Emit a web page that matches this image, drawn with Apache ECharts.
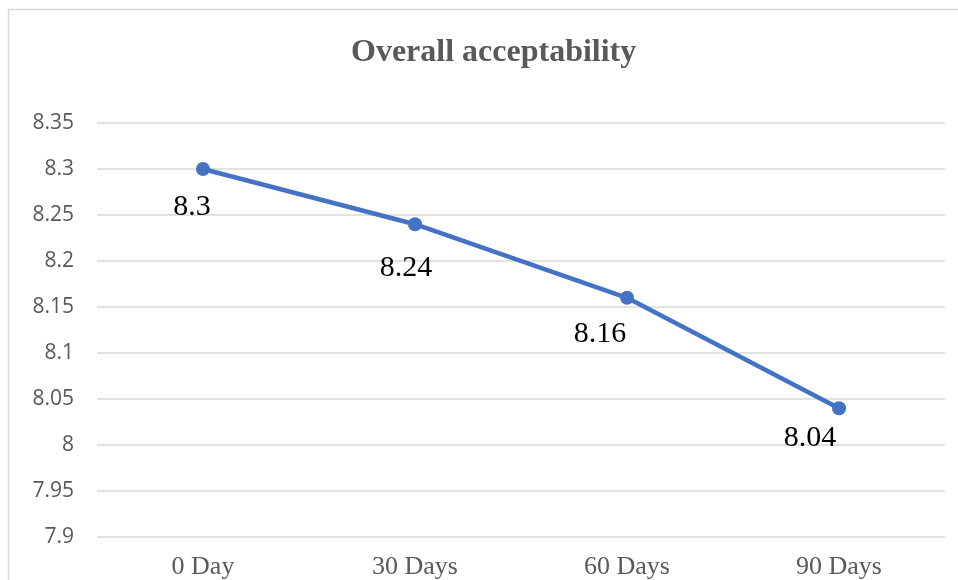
<!DOCTYPE html>
<html>
<head>
<meta charset="utf-8">
<script src="https://cdn.jsdelivr.net/npm/echarts@6/dist/echarts.min.js"></script>
<style>
html,body{margin:0;padding:0;background:#fff;}
#chart{width:958px;height:580px;}
</style>
</head>
<body>
<div id="chart"></div>
<script>
const categories = ['0 Day', '30 Days', '60 Days', '90 Days'];
const values = [8.3, 8.24, 8.16, 8.04];
const yTicks = { min: 7.9, max: 8.35, interval: 0.05 };
const labelOffsets = [[-11, 4], [-9, 10], [-27, 2], [-29, -4]];

const chart = echarts.init(document.getElementById('chart'), null, { renderer: 'canvas' });
chart.setOption({
  animation: false,
  backgroundColor: '#ffffff',
  graphic: [{
    type: 'rect', silent: true, z: -1,
    shape: { x: 8.5, y: 9.5, width: 970, height: 600 },
    style: { fill: 'none', stroke: '#d9d9d9', lineWidth: 1.5 }
  }],
  title: {
    text: 'Overall acceptability',
    left: 346, top: 32,
    textStyle: { fontFamily: 'Liberation Serif', fontWeight: 'bold', fontSize: 32, color: '#595959' }
  },
  grid: { left: 97, right: 13, top: 123, bottom: 43, containLabel: false },
  xAxis: {
    type: 'category',
    data: categories,
    boundaryGap: true,
    axisLine: { show: false },
    axisTick: { show: false },
    axisLabel: { fontFamily: 'Liberation Serif', fontSize: 26, color: '#595959', margin: 17 }
  },
  yAxis: {
    type: 'value',
    min: yTicks.min, max: yTicks.max, interval: yTicks.interval,
    axisLine: { show: false },
    axisTick: { show: false },
    splitLine: { lineStyle: { color: '#d9d9d9', width: 1.5 } },
    axisLabel: {
      fontFamily: 'Open Sans', fontSize: 21, color: '#595959', margin: 23,
      formatter: v => String(parseFloat(v.toFixed(2)))
    }
  },
  series: [{
    type: 'line',
    data: values.map((v, i) => ({ value: v, label: { offset: labelOffsets[i] } })),
    lineStyle: { color: '#4472C4', width: 4.5 },
    itemStyle: { color: '#4472C4' },
    symbol: 'circle', symbolSize: 14,
    label: {
      show: true, position: 'bottom', distance: 12,
      fontFamily: 'Liberation Serif', fontSize: 30, color: '#000000'
    }
  }]
});
</script>
</body>
</html>
